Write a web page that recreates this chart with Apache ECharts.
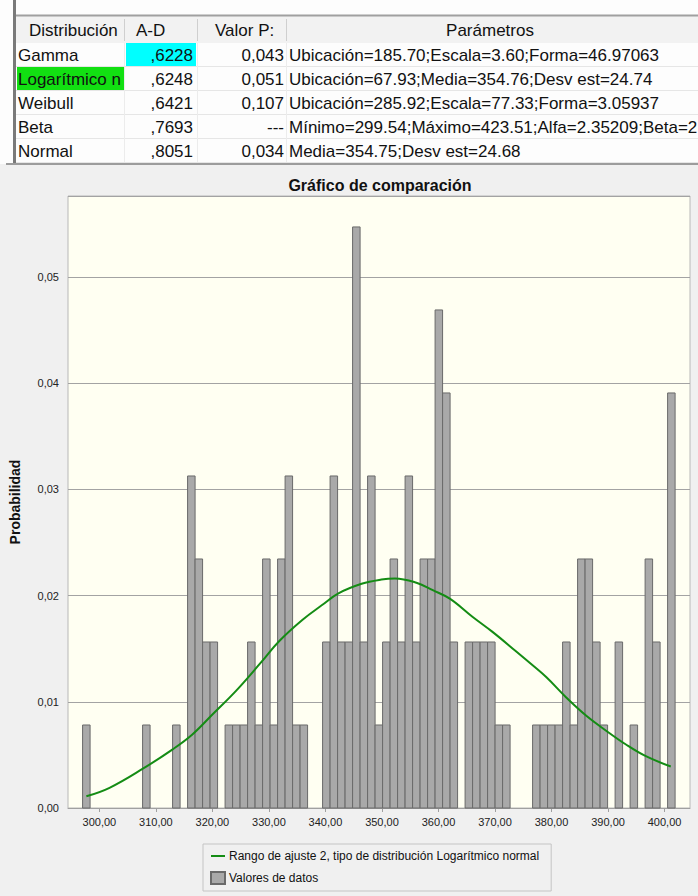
<!DOCTYPE html>
<html>
<head>
<meta charset="utf-8">
<script src="https://cdn.jsdelivr.net/npm/echarts@6/dist/echarts.min.js"></script>
<style>
  html, body { margin: 0; padding: 0; background: #f0f0f0; }
  #chart { width: 698px; height: 896px; }
</style>
</head>
<body>
<div id="chart"></div>
<script>
// Tabla de ajuste de distribuciones
const encabezados = ['Distribución', 'A-D', 'Valor P:', 'Parámetros'];
const distribuciones = ['Gamma', 'Logarítmico n', 'Weibull', 'Beta', 'Normal'];
const valoresAD = [',6228', ',6248', ',6421', ',7693', ',8051'];
const valoresP = ['0,043', '0,051', '0,107', '---', '0,034'];
const parametros = [
  'Ubicación=185.70;Escala=3.60;Forma=46.97063',
  'Ubicación=67.93;Media=354.76;Desv est=24.74',
  'Ubicación=285.92;Escala=77.33;Forma=3.05937',
  'Mínimo=299.54;Máximo=423.51;Alfa=2.35209;Beta=2',
  'Media=354.75;Desv est=24.68'
];

// Histograma: 79 clases entre el mínimo y el máximo de los datos
const rangoMin = 297.03;
const anchoClase = 1.327;
const frecuencias = [
  1, 0, 0, 0, 0, 0, 0, 0, 1, 0,
  0, 0, 1, 0, 4, 3, 2, 2, 0, 1,
  1, 1, 2, 1, 3, 1, 3, 4, 1, 1,
  0, 0, 2, 4, 2, 2, 7, 2, 4, 1,
  2, 3, 2, 4, 2, 3, 3, 6, 5, 2,
  0, 2, 2, 2, 2, 1, 1, 0, 0, 0,
  1, 1, 1, 1, 2, 1, 3, 3, 2, 1,
  0, 2, 0, 1, 0, 3, 2, 0, 5
];

// Curva ajustada (logarítmico normal)
const curvaX = [297.7, 301.8, 307.7, 312.9, 316.4, 320.0, 324.3, 328.6, 331.8,
  335.9, 339.4, 342.3, 346.4, 349.9, 352.3, 356.1, 359.0, 362.0, 366.0,
  369.5, 373.6, 376.5, 379.1, 382.6, 386.1, 389.6, 393.1, 396.6, 401.1];
const curvaY = [0.0011, 0.0019, 0.0037, 0.0055, 0.0069, 0.0088, 0.0111, 0.0137, 0.0157,
  0.0177, 0.0191, 0.0202, 0.0211, 0.0215, 0.0216, 0.0212, 0.0205, 0.0197, 0.0180,
  0.0166, 0.0148, 0.0135, 0.0123, 0.0104, 0.0087, 0.0073, 0.0060, 0.0049, 0.0039];

// Marcas de los ejes
const valoresX = [300, 310, 320, 330, 340, 350, 360, 370, 380, 390, 400];
const etiquetasX = ['300,00', '310,00', '320,00', '330,00', '340,00', '350,00',
  '360,00', '370,00', '380,00', '390,00', '400,00'];
const valoresY = [0, 0.01, 0.02, 0.03, 0.04, 0.05];
const etiquetasY = ['0,00', '0,01', '0,02', '0,03', '0,04', '0,05'];

const totalDatos = frecuencias.reduce((a, b) => a + b, 0);
const datosHistograma = [];
frecuencias.forEach((f, i) => {
  if (f > 0) {
    datosHistograma.push([rangoMin + i * anchoClase, rangoMin + (i + 1) * anchoClase, f / totalDatos]);
  }
});
const datosCurva = curvaX.map((x, i) => [x, curvaY[i]]);

// ---- Elementos gráficos de la tabla ----
const FUENTE = '"Liberation Sans", Arial, sans-serif';
const filaY0 = 43, altoFila = 24;
const tabla = [];
// fondo blanco de la tabla
tabla.push({ type: 'rect', shape: { x: 0, y: 0, width: 698, height: 164 }, style: { fill: '#fdfdfd' }, silent: true });
// encabezado
tabla.push({ type: 'rect', shape: { x: 16, y: 16, width: 682, height: 27 }, style: { fill: '#f2f2f2' }, silent: true });
tabla.push({ type: 'line', shape: { x1: 16, y1: 15.5, x2: 698, y2: 15.5 }, style: { stroke: '#a0a0a0', lineWidth: 2 }, silent: true });
// borde izquierdo
tabla.push({ type: 'rect', shape: { x: 13, y: 0, width: 3, height: 163 }, style: { fill: '#7a7a7a' }, silent: true });
// resaltados
tabla.push({ type: 'rect', shape: { x: 126, y: 43, width: 70, height: 23 }, style: { fill: '#00ffff' }, silent: true });
tabla.push({ type: 'rect', shape: { x: 17, y: 67, width: 107, height: 23 }, style: { fill: '#12e012' }, silent: true });
// separadores de filas
for (let r = 1; r <= 5; r++) {
  const y = filaY0 + r * altoFila - 0.5;
  tabla.push({ type: 'line', shape: { x1: 16, y1: y, x2: 698, y2: y }, style: { stroke: '#e6e6e6', lineWidth: 1 }, silent: true });
}
// separadores de columnas
[124.5, 197.5, 286.5].forEach(x => {
  tabla.push({ type: 'line', shape: { x1: x, y1: 19, x2: x, y2: 41 }, style: { stroke: '#cfcfcf', lineWidth: 1 }, silent: true });
  tabla.push({ type: 'line', shape: { x1: x, y1: 43, x2: x, y2: 162 }, style: { stroke: '#ececec', lineWidth: 1 }, silent: true });
});
// textos del encabezado
const yEnc = 30;
tabla.push({ type: 'text', style: { text: encabezados[0], x: 29, y: yEnc, font: '17px ' + FUENTE, fill: '#111', textVerticalAlign: 'middle' }, silent: true });
tabla.push({ type: 'text', style: { text: encabezados[1], x: 136, y: yEnc, font: '17px ' + FUENTE, fill: '#111', textVerticalAlign: 'middle' }, silent: true });
tabla.push({ type: 'text', style: { text: encabezados[2], x: 215, y: yEnc, font: '17px ' + FUENTE, fill: '#111', textVerticalAlign: 'middle' }, silent: true });
tabla.push({ type: 'text', style: { text: encabezados[3], x: 490, y: yEnc, font: '17px ' + FUENTE, fill: '#111', textAlign: 'center', textVerticalAlign: 'middle' }, silent: true });
// filas
distribuciones.forEach((d, i) => {
  const y = filaY0 + i * altoFila + 12.5;
  tabla.push({ type: 'text', style: { text: d, x: 18, y, font: '17px ' + FUENTE, fill: '#111', textVerticalAlign: 'middle' }, silent: true });
  tabla.push({ type: 'text', style: { text: valoresAD[i], x: 193, y, font: '17px ' + FUENTE, fill: '#111', textAlign: 'right', textVerticalAlign: 'middle' }, silent: true });
  tabla.push({ type: 'text', style: { text: valoresP[i], x: 284, y, font: '17px ' + FUENTE, fill: '#111', textAlign: 'right', textVerticalAlign: 'middle' }, silent: true });
  tabla.push({ type: 'text', style: { text: parametros[i], x: 289, y, font: '17px ' + FUENTE, fill: '#111', textVerticalAlign: 'middle' }, silent: true });
});
// línea inferior de la tabla
tabla.push({ type: 'line', shape: { x1: 6, y1: 164, x2: 698, y2: 164 }, style: { stroke: '#9c9c9c', lineWidth: 2 }, silent: true });

const chart = echarts.init(document.getElementById('chart'), null, { renderer: 'svg' });
chart.setOption({
  backgroundColor: '#f0f0f0',
  animation: false,
  textStyle: { fontFamily: FUENTE },
  title: {
    text: 'Gráfico de comparación',
    left: 375, top: 172, textAlign: 'center',
    textStyle: { fontSize: 16, fontWeight: 'bold', color: '#111', fontFamily: FUENTE }
  },
  graphic: tabla,
  grid: {
    left: 61, right: 8, top: 196, bottom: 88,
    show: true, backgroundColor: '#fffff2', borderColor: '#b8b8b8', borderWidth: 1
  },
  legend: {
    orient: 'vertical',
    left: 203, top: 844,
    padding: [6, 12, 6, 7],
    itemGap: 9,
    itemWidth: 14, itemHeight: 12,
    symbolKeepAspect: true,
    borderColor: '#c4c4c4', borderWidth: 1,
    backgroundColor: '#f0f0f0',
    textStyle: { fontSize: 12, color: '#111', fontFamily: FUENTE, padding: [0, 0, 0, -1] },
    data: [
      { name: 'Rango de ajuste 2, tipo de distribución Logarítmico normal', icon: 'path://M0,0H14V2H0Z' },
      { name: 'Valores de datos', icon: 'rect' }
    ]
  },
  xAxis: {
    type: 'value',
    min: 294.45, max: 404.5,
    axisLine: { show: true, lineStyle: { color: '#a0a0a0' } },
    axisTick: { show: true, length: 4, customValues: valoresX, lineStyle: { color: '#a0a0a0' } },
    axisLabel: {
      customValues: valoresX,
      formatter: v => etiquetasX[valoresX.indexOf(v)] ?? '',
      fontSize: 11, color: '#222', margin: 8, fontFamily: FUENTE
    },
    splitLine: { show: false }
  },
  yAxis: {
    type: 'value',
    min: 0, max: 0.0576, interval: 0.01,
    name: 'Probabilidad',
    nameLocation: 'middle', nameGap: 46,
    nameTextStyle: { fontSize: 14, fontWeight: 'bold', color: '#111', fontFamily: FUENTE },
    axisLine: { show: false },
    axisTick: { show: false },
    axisLabel: {
      customValues: valoresY,
      formatter: v => etiquetasY[valoresY.findIndex(t => Math.abs(t - v) < 1e-9)] ?? '',
      fontSize: 11, color: '#222', margin: 9, fontFamily: FUENTE
    },
    splitLine: { show: true, lineStyle: { color: '#a3a3a3', width: 1 } }
  },
  series: [
    {
      name: 'Valores de datos',
      type: 'custom',
      z: 2,
      itemStyle: { color: '#a9a9a9', borderColor: '#6a6a6a', borderWidth: 1 },
      encode: { x: [0, 1], y: 2 },
      data: datosHistograma,
      renderItem: function (params, api) {
        const p0 = api.coord([api.value(0), 0]);
        const p1 = api.coord([api.value(1), api.value(2)]);
        return {
          type: 'rect',
          shape: { x: p0[0], y: p1[1], width: p1[0] - p0[0], height: p0[1] - p1[1] },
          style: api.style()
        };
      }
    },
    {
      name: 'Rango de ajuste 2, tipo de distribución Logarítmico normal',
      type: 'line',
      z: 3,
      smooth: 0.4,
      symbol: 'none',
      data: datosCurva,
      itemStyle: { color: '#148c14' },
      lineStyle: { color: '#148c14', width: 2 }
    }
  ]
});
</script>
</body>
</html>
